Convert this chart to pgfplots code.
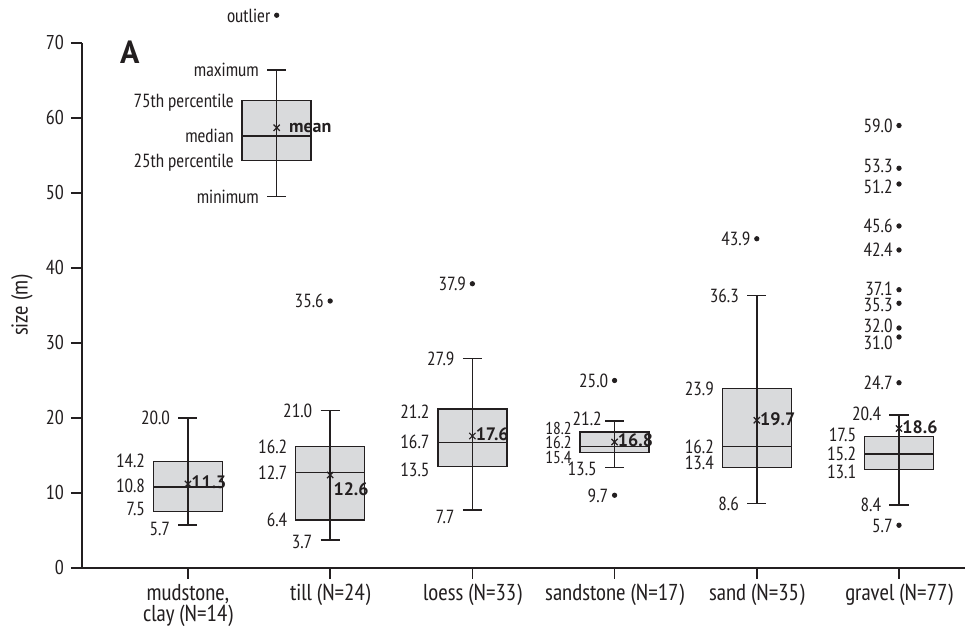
\documentclass[border=0pt]{standalone}
\usepackage{pgfplots}
\pgfplotsset{compat=1.18}
\usepgfplotslibrary{statistics}
\usepackage{fontspec}
\setmainfont{PT Sans Narrow}
\newfontfamily\widesans{PT Sans}
\definecolor{ink}{HTML}{231F20}
\definecolor{boxgray}{HTML}{D9DADC}

\begin{document}
\begin{tikzpicture}[font=\fontsize{9.5}{10}\selectfont,
  lbl/.style={anchor=east, inner sep=0pt, text height=0.7em, text depth=0pt, text=ink},
  boxl/.style={lbl, xshift=-21.25pt},
  whl/.style={lbl, xshift=-8.75pt},
  outl/.style={lbl, xshift=-3pt},
  small/.style={font=\fontsize{8.6}{9}\selectfont},
  meanl/.style={anchor=west, inner sep=0pt, text height=0.7em, text depth=0pt, text=ink, font=\widesans\fontsize{9}{10}\selectfont\bfseries, xshift=1.5pt, yshift=1pt}]
\useasboundingbox (-41pt,-34.5pt) rectangle (441.5pt,284pt);
\begin{axis}[at={(0pt,0pt)}, anchor=south west, scale only axis,
  width=441.5pt, height=262.5pt,
  xmin=-0.745, xmax=5.464, ymin=0, ymax=70,
  axis x line*=bottom, axis y line*=left,
  axis line style={ink, line width=0.75pt, -},
  tick align=outside, major tick length=5.5pt,
  tick style={ink, line width=0.75pt},
  xtick={0,...,5},
  xticklabels={{mudstone,\\clay (N=14)},{till (N=24)},{loess (N=33)},{sandstone (N=17)},{sand (N=35)},{gravel (N=77)}},
  xticklabel style={align=center, font=\fontsize{11.5}{10.5}\selectfont, text=ink, yshift=1pt},
  ytick={0,10,...,70},
  yticklabel style={font=\fontsize{10}{10}\selectfont, text=ink},
  /pgf/number format/assume math mode=true,
  ylabel={size (m)},
  ylabel style={at={(axis description cs:-0.068,0.5)}, anchor=center, font=\fontsize{11.5}{12}\selectfont, text=ink},
  clip=false,
  boxplot/draw direction=y,
]
% ---- boxes: position, min, q1, median, q3, max
\addplot[ink, line width=0.75pt, fill=boxgray, boxplot prepared={draw position=0, lower whisker=5.7, lower quartile=7.5, median=10.8, upper quartile=14.2, upper whisker=20.0, box extend=0.485, whisker extend=0.134}] coordinates {};
\addplot[ink, line width=0.75pt, fill=boxgray, boxplot prepared={draw position=1, lower whisker=3.7, lower quartile=6.4, median=12.7, upper quartile=16.2, upper whisker=21.0, box extend=0.485, whisker extend=0.134}] coordinates {};
\addplot[ink, line width=0.75pt, fill=boxgray, boxplot prepared={draw position=2, lower whisker=7.7, lower quartile=13.5, median=16.7, upper quartile=21.2, upper whisker=27.9, box extend=0.485, whisker extend=0.134}] coordinates {};
\addplot[ink, line width=0.75pt, fill=boxgray, boxplot prepared={draw position=3, lower whisker=13.4, lower quartile=15.4, median=16.2, upper quartile=18.1, upper whisker=19.6, box extend=0.485, whisker extend=0.134}] coordinates {};
\addplot[ink, line width=0.75pt, fill=boxgray, boxplot prepared={draw position=4, lower whisker=8.6, lower quartile=13.4, median=16.2, upper quartile=23.9, upper whisker=36.3, box extend=0.485, whisker extend=0.134}] coordinates {};
\addplot[ink, line width=0.75pt, fill=boxgray, boxplot prepared={draw position=5, lower whisker=8.4, lower quartile=13.1, median=15.2, upper quartile=17.5, upper whisker=20.4, box extend=0.485, whisker extend=0.134}] coordinates {};
% legend box
\addplot[ink, line width=0.75pt, fill=boxgray, boxplot prepared={draw position=0.624, lower whisker=49.5, lower quartile=54.3, median=57.6, upper quartile=62.3, upper whisker=66.4, box extend=0.485, whisker extend=0.134}] coordinates {};
% ---- vertical lines through boxes
\addplot[ink, line width=0.75pt] coordinates {(0,5.7) (0,20.0)};
\addplot[ink, line width=0.75pt] coordinates {(1,3.7) (1,21.0)};
\addplot[ink, line width=0.75pt] coordinates {(2,7.7) (2,27.9)};
\addplot[ink, line width=0.75pt] coordinates {(3,13.4) (3,19.6)};
\addplot[ink, line width=0.75pt] coordinates {(4,8.6) (4,36.3)};
\addplot[ink, line width=0.75pt] coordinates {(5,8.4) (5,20.4)};
\addplot[ink, line width=0.75pt] coordinates {(0.624,49.5) (0.624,66.4)};
% ---- means
\addplot[only marks, mark=x, mark size=2.2pt, ink, line width=0.6pt] coordinates {(0,11.2) (1,12.4) (2,17.6) (3,16.8) (4,19.7) (5,18.6) (0.624,58.7)};
% ---- outliers
\addplot[only marks, mark=*, mark size=1.1pt, ink] coordinates {
 (1,35.6) (2,37.9) (3,25.0) (3,9.7) (4,43.9)
 (5,59.0) (5,53.3) (5,51.2) (5,45.6) (5,42.4) (5,37.1) (5,35.3) (5,32.0) (5,30.8) (5,24.7) (5,5.7)
 (0.624,73.7)};
% ---- labels: mudstone
\node[whl] at (axis cs:0,20.0) {20.0};
\node[boxl] at (axis cs:0,14.3) {14.2};
\node[boxl] at (axis cs:0,11.0) {10.8};
\node[boxl] at (axis cs:0,7.9) {7.5};
\node[whl] at (axis cs:0,5.3) {5.7};
\node[meanl] at (axis cs:0,11.2) {11.3};
% till
\node[whl] at (axis cs:1,21.0) {21.0};
\node[boxl] at (axis cs:1,16.2) {16.2};
\node[boxl] at (axis cs:1,12.7) {12.7};
\node[boxl] at (axis cs:1,6.4) {6.4};
\node[whl] at (axis cs:1,3.5) {3.7};
\node[outl] at (axis cs:1,35.6) {35.6};
\node[meanl, anchor=north west, xshift=0pt, yshift=-4pt] at (axis cs:1,12.4) {12.6};
% loess
\node[whl] at (axis cs:2,27.9) {27.9};
\node[boxl] at (axis cs:2,20.9) {21.2};
\node[boxl] at (axis cs:2,16.8) {16.7};
\node[boxl] at (axis cs:2,13.1) {13.5};
\node[whl] at (axis cs:2,6.9) {7.7};
\node[outl] at (axis cs:2,37.9) {37.9};
\node[meanl] at (axis cs:2,17.6) {17.6};
% sandstone
\node[whl, xshift=2.5pt] at (axis cs:3,19.9) {21.2};
\node[boxl, small] at (axis cs:3,18.7) {18.2};
\node[boxl, small] at (axis cs:3,16.8) {16.2};
\node[boxl, small] at (axis cs:3,14.9) {15.4};
\node[whl] at (axis cs:3,13.2) {13.5};
\node[outl] at (axis cs:3,25.0) {25.0};
\node[outl] at (axis cs:3,9.7) {9.7};
\node[meanl] at (axis cs:3,16.8) {16.8};
% sand
\node[whl] at (axis cs:4,36.3) {36.3};
\node[boxl] at (axis cs:4,23.9) {23.9};
\node[boxl] at (axis cs:4,16.2) {16.2};
\node[boxl] at (axis cs:4,14.0) {13.4};
\node[whl] at (axis cs:4,8.6) {8.6};
\node[outl] at (axis cs:4,43.9) {43.9};
\node[meanl] at (axis cs:4,19.7) {19.7};
% gravel
\node[whl] at (axis cs:5,20.6) {20.4};
\node[boxl] at (axis cs:5,17.8) {17.5};
\node[boxl] at (axis cs:5,15.3) {15.2};
\node[boxl] at (axis cs:5,12.9) {13.1};
\node[whl] at (axis cs:5,8.4) {8.4};
\node[outl] at (axis cs:5,5.7) {5.7};
\node[outl] at (axis cs:5,59.0) {59.0};
\node[outl] at (axis cs:5,53.6) {53.3};
\node[outl] at (axis cs:5,50.9) {51.2};
\node[outl] at (axis cs:5,45.6) {45.6};
\node[outl] at (axis cs:5,42.4) {42.4};
\node[outl] at (axis cs:5,37.3) {37.1};
\node[outl] at (axis cs:5,35.1) {35.3};
\node[outl] at (axis cs:5,32.3) {32.0};
\node[outl] at (axis cs:5,30.0) {31.0};
\node[outl] at (axis cs:5,24.7) {24.7};
\node[meanl] at (axis cs:5,18.6) {18.6};
% legend explanation
\node[whl] at (axis cs:0.624,66.4) {maximum};
\node[boxl] at (axis cs:0.624,62.3) {75th percentile};
\node[boxl] at (axis cs:0.624,57.6) {median};
\node[boxl] at (axis cs:0.624,54.3) {25th percentile};
\node[whl] at (axis cs:0.624,49.5) {minimum};
\node[outl] at (axis cs:0.624,73.7) {outlier};
\node[meanl, xshift=4.5pt, yshift=0pt] at (axis cs:0.624,58.7) {mean};
\node[anchor=west, inner sep=0pt, text=ink, font=\widesans\fontsize{16}{18}\selectfont\bfseries] at (axis cs:-0.48,68.8) {A};
\end{axis}
\end{tikzpicture}
\end{document}
